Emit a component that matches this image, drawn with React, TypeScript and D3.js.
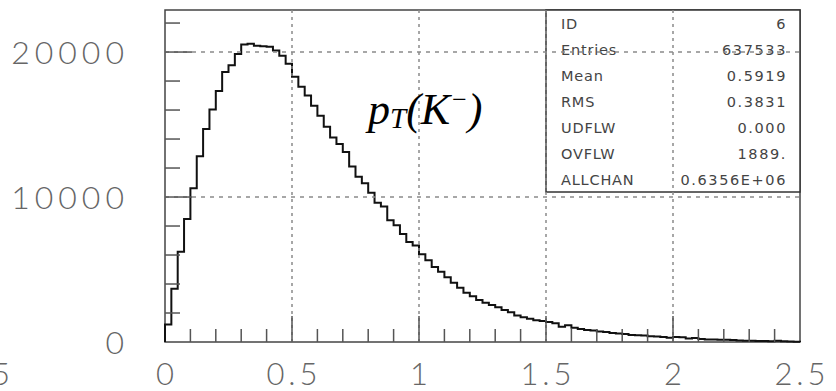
import React from "react";
import * as d3 from "d3";

// Histogram of kaon transverse momentum, 100 bins over [0, 2.5] GeV/c
const xMin = 0;
const xMax = 2.5;
const counts = [
  1200, 3670, 6230, 8480, 10600, 12820, 14700, 16030, 17320, 18620,
  19090, 19860, 20520, 20580, 20440, 20400, 20360, 20100, 19750, 19200,
  18300, 17600, 17000, 16300, 15600, 14850, 14100, 13650, 13100, 12100,
  11400, 10950, 10300, 9600, 9350, 8400, 8050, 7450, 6900, 6650,
  6050, 5640, 5170, 4850, 4460, 4080, 3740, 3400, 3150, 2900,
  2700, 2550, 2400, 2200, 2050, 1830, 1700, 1600, 1500, 1440,
  1380, 1300, 1060, 1150, 980, 900, 820, 800, 720, 690,
  620, 580, 560, 480, 460, 450, 400, 380, 340, 300,
  345, 320, 240, 280, 200, 180, 170, 160, 160, 130,
  100, 90, 80, 70, 70, 50, 90, 60, 30, 20,
];

const xTickLabels = ["0", "0.5", "1", "1.5", "2", "2.5"];
const xTickValues = [0, 0.5, 1, 1.5, 2, 2.5];
const xMinorValues = d3.range(1, 25).map((i) => i / 10);
const yTickLabels = ["0", "10000", "20000"];
const yTickValues = [0, 10000, 20000];
const yMinorValues = d3.range(1, 12).map((i) => i * 2000);
const yMax = 22900;

const statLabels = ["ID", "Entries", "Mean", "RMS", "UDFLW", "OVFLW", "ALLCHAN"];
const statValues = ["6", "637533", "0.5919", "0.3831", "0.000", "1889.", "0.6356E+06"];

const W = 836;
const H = 391;
const left = 165;
const right = 800;
const top = 10;
const bottom = 342;

export default function App() {
  const x = d3.scaleLinear().domain([xMin, xMax]).range([left, right]);
  const y = d3.scaleLinear().domain([0, yMax]).range([bottom, top]);
  const binW = (xMax - xMin) / counts.length;

  const pts: [number, number][] = [[xMin, 0]];
  counts.forEach((c, i) => pts.push([xMin + i * binW, c]));
  pts.push([xMax, counts[counts.length - 1]]);
  pts.push([xMax, 0]);
  const histPath = d3
    .line<[number, number]>()
    .x((d) => x(d[0]))
    .y((d) => y(d[1]))
    .curve(d3.curveStepAfter)(pts) as string;

  const boxLeft = x(1.5);
  const boxBottom = 192;
  const rowStep = (boxBottom - top) / statLabels.length;

  const statFont = "'DejaVu Sans', sans-serif";
  const axisFont = "Lato, 'DejaVu Sans', sans-serif";
  const gridColor = "#8a8a8a";
  const tickColor = "#555";

  return (
    <svg width={W} height={H} style={{ position: "absolute", left: 0, top: 0, background: "#fff" }}>
      {/* frame */}
      <rect x={left} y={top} width={right - left} height={bottom - top} fill="none" stroke="#444" strokeWidth={1.5} />

      {/* histogram */}
      <path d={histPath} fill="none" stroke="#111" strokeWidth={2} />

      {/* stats box */}
      <rect x={boxLeft} y={top} width={right - boxLeft} height={boxBottom - top} fill="#fff" stroke="#333" strokeWidth={1.5} />
      {statLabels.map((s, i) => (
        <text key={s} x={boxLeft + 15} y={top + rowStep * (i + 0.5) + 5.5} fontFamily={statFont} fontSize={14.5} letterSpacing={0.8} fill="#444">
          {s}
        </text>
      ))}
      {statValues.map((s, i) => (
        <text key={i} x={right - 13} y={top + rowStep * (i + 0.5) + 5.5} fontFamily={statFont} fontSize={14.5} letterSpacing={1.6} textAnchor="end" fill="#444">
          {s}
        </text>
      ))}

      {/* grid */}
      {xTickValues.slice(1, -1).map((v) => (
        <line key={"gx" + v} x1={x(v)} x2={x(v)} y1={top} y2={bottom} stroke={gridColor} strokeWidth={1.5} strokeDasharray="3,4" />
      ))}
      {yTickValues.slice(1).map((v) => (
        <line key={"gy" + v} x1={left} x2={right} y1={y(v)} y2={y(v)} stroke={gridColor} strokeWidth={1.5} strokeDasharray="4,5" />
      ))}

      {/* ticks */}
      {xMinorValues.map((v) => {
        const major = Math.abs(v * 2 - Math.round(v * 2)) < 1e-6;
        return <line key={"tx" + v} x1={x(v)} x2={x(v)} y1={bottom} y2={bottom - (major ? 26 : 13)} stroke={tickColor} strokeWidth={1.5} />;
      })}
      {yMinorValues.map((v) => {
        const major = v % 10000 === 0;
        return <line key={"ty" + v} x1={left} x2={left + (major ? 27 : 15)} y1={y(v)} y2={y(v)} stroke={tickColor} strokeWidth={1.5} />;
      })}

      {/* axis labels */}
      {yTickValues.map((v, i) => (
        <text key={"ly" + v} x={129} y={y(v) + 11.5} textAnchor="end" fontFamily={axisFont} fontWeight={300} fontSize={32} letterSpacing={5} fill="#666">
          {yTickLabels[i]}
        </text>
      ))}
      {xTickValues.map((v, i) => (
        <text key={"lx" + v} x={x(v) + 2} y={385} textAnchor="middle" fontFamily={axisFont} fontWeight={300} fontSize={31} letterSpacing={4} fill="#666">
          {xTickLabels[i]}
        </text>
      ))}
      <text x={14} y={385} textAnchor="end" fontFamily={axisFont} fontWeight={300} fontSize={31} letterSpacing={4} fill="#666">
        2.5
      </text>

      {/* title */}
      <text x={368} y={124} fontFamily="'Liberation Serif', serif" fontStyle="italic" fontSize={44} fill="#000">
        p
        <tspan fontSize={29} dy={4}>T</tspan>
        <tspan fontSize={44} dy={-4}>(K</tspan>
        <tspan fontSize={26} dy={-16}>−</tspan>
        <tspan fontSize={44} dy={16}>)</tspan>
      </text>
    </svg>
  );
}
